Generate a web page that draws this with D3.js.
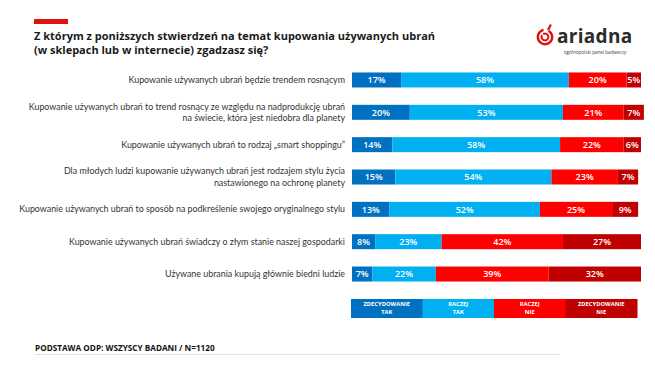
<!DOCTYPE html>
<html><head><meta charset="utf-8">
<script src="https://cdn.jsdelivr.net/npm/d3@7"></script>
<style>
html,body{margin:0;padding:0;background:#fff;}
svg{display:block;}
</style></head>
<body><svg id="c" width="655" height="391"></svg>
<script>
const categories = [
  ["Kupowanie używanych ubrań będzie trendem rosnącym"],
  ["Kupowanie używanych ubrań to trend rosnący ze względu na nadprodukcję ubrań", "na świecie, która jest niedobra dla planety"],
  ["Kupowanie używanych ubrań to rodzaj „smart shoppingu”"],
  ["Dla młodych ludzi kupowanie używanych ubrań jest rodzajem stylu życia", "nastawionego na ochronę planety"],
  ["Kupowanie używanych ubrań to sposób na podkreślenie swojego oryginalnego stylu"],
  ["Kupowanie używanych ubrań świadczy o złym stanie naszej gospodarki"],
  ["Używane ubrania kupują głównie biedni ludzie"]
];
const zdecydowanieTak = [17, 20, 14, 15, 13, 8, 7];
const raczejTak      = [58, 53, 58, 54, 52, 23, 22];
const raczejNie      = [20, 21, 22, 23, 25, 42, 39];
const zdecydowanieNie= [5, 7, 6, 7, 9, 27, 32];
const seriesNames = [["ZDECYDOWANIE","TAK"],["RACZEJ","TAK"],["RACZEJ","NIE"],["ZDECYDOWANIE","NIE"]];
const colors = ["#0070c0", "#00b0f0", "#ff0000", "#c00000"];
const title = ["Z którym z poniższych stwierdzeń na temat kupowania używanych ubrań", "(w sklepach lub w internecie) zgadzasz się?"];
const footer = "PODSTAWA ODP: WSZYSCY BADANI / N=1120";

const svg = d3.select("#c");
const series = [zdecydowanieTak, raczejTak, raczejNie, zdecydowanieNie];

// header
svg.append("rect").attr("x",34).attr("y",19).attr("width",34).attr("height",5).attr("fill","#e0120f");
svg.append("g").selectAll("text").data(title).join("text")
  .attr("x",34).attr("y",(d,i)=>40+i*14)
  .attr("font-family","'Open Sans', sans-serif").attr("font-weight",700).attr("font-size",11)
  .attr("fill","#1a1a1a").text(d=>d);

// logo
const logo = svg.append("g").attr("transform","translate(545,37)");
logo.append("path").attr("d", d3.arc()({innerRadius:6.0,outerRadius:8.4,startAngle:0.5,endAngle:2*Math.PI-0.2})).attr("fill","#e0120f");
logo.append("path").attr("d", d3.arc()({innerRadius:2.4,outerRadius:4.4,startAngle:-0.6,endAngle:2*Math.PI-1.0})).attr("fill","#e0120f");
logo.append("path").attr("d","M2,-7.5 L5,-13 L6.8,-12 L4.3,-6.8 Z").attr("fill","#e0120f");
svg.append("text").attr("x",557).attr("y",43).attr("font-family","'Open Sans', sans-serif").attr("font-weight",700)
  .attr("font-size",19).attr("fill","#2b2b2b").attr("letter-spacing",0.3).text("ariadna");
svg.append("text").attr("x",595).attr("y",54).attr("text-anchor","middle").attr("font-family","'Open Sans', sans-serif")
  .attr("font-size",4.6).attr("fill","#444").text("ogólnopolski panel badawczy");

// scales
const x = d3.scaleLinear().domain([0,100]).range([352,641]);
const y = d3.scalePoint().domain(d3.range(categories.length)).range([63.8,290.2]).padding(0.5);
const bh = 15;

const stacks = categories.map((c,i)=>{
  let acc=0;
  return series.map((s,k)=>{const v=s[i]; const r={row:i,k,v,x0:acc,x1:acc+v}; acc+=v; return r;});
}).flat();

const g = svg.append("g");
g.selectAll("rect").data(stacks).join("rect")
  .attr("x",d=>x(d.x0)).attr("width",d=>x(d.x1)-x(d.x0))
  .attr("y",d=>y(d.row)-bh/2).attr("height",bh)
  .attr("fill",d=>colors[d.k]);
g.selectAll("text").data(stacks).join("text")
  .attr("x",d=>(x(d.x0)+x(d.x1))/2).attr("y",d=>y(d.row)+3.3)
  .attr("text-anchor","middle").attr("font-family","'Open Sans', sans-serif").attr("font-weight",600)
  .attr("font-size",9).attr("fill","#fff").text(d=>d.v+"%");

// category labels
const lab = svg.append("g");
categories.forEach((lines,i)=>{
  const n = lines.length;
  lines.forEach((t,j)=>{
    lab.append("text").attr("x",345).attr("y",y(i)+3 + (j-(n-1)/2)*11.5)
      .attr("text-anchor","end").attr("font-family","Lato, sans-serif").attr("font-size",8.9)
      .attr("fill","#333").text(t);
  });
});

// legend
const lx = d3.scaleBand().domain(d3.range(4)).range([351,637]);
const leg = svg.append("g");
leg.selectAll("rect").data(seriesNames).join("rect")
  .attr("x",(d,i)=>lx(i)).attr("y",299).attr("width",lx.bandwidth()+0.5).attr("height",19)
  .attr("fill",(d,i)=>colors[i]);
seriesNames.forEach((ls,i)=>{
  ls.forEach((t,j)=>{
    leg.append("text").attr("x",lx(i)+lx.bandwidth()/2).attr("y",306.2+j*8)
      .attr("text-anchor","middle").attr("font-family","'Open Sans', sans-serif").attr("font-weight",700)
      .attr("font-size",5.8).attr("fill","#fff").text(t);
  });
});

// footer
svg.append("text").attr("x",35).attr("y",351).attr("font-family","'Open Sans', sans-serif").attr("font-weight",700)
  .attr("font-size",8.2).attr("fill","#111").text(footer);
svg.append("line").attr("x1",35).attr("x2",560).attr("y1",354.5).attr("y2",354.5).attr("stroke","#d9d9d9").attr("stroke-width",0.8);
</script></body></html>
